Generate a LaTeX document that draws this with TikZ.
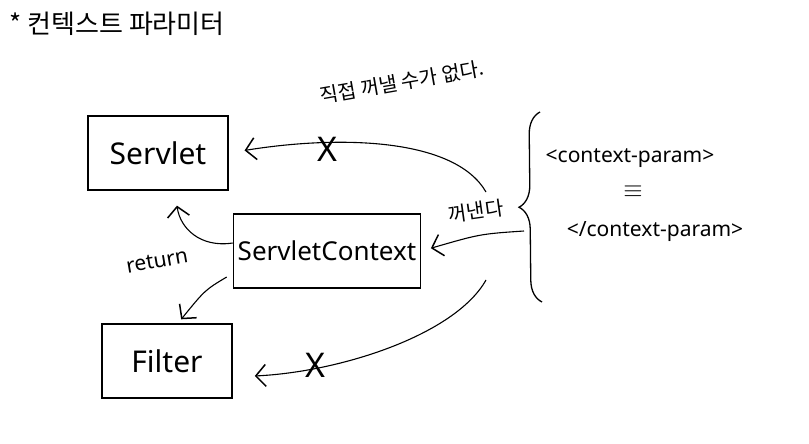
\documentclass[tikz,border=0pt]{standalone}
\usepackage{fontspec}
\setmainfont{Noto Sans}
\newfontfamily\kor{Noto Sans CJK KR}
\usetikzlibrary{arrows.meta,positioning,decorations.pathreplacing}

\begin{document}
\begin{tikzpicture}[
    x=1pt, y=-1pt,
    box/.style={draw=black, line width=1.6pt, minimum height=74pt, inner sep=4pt, font=\fontsize{30}{34}\selectfont},
    arr/.style={-{Straight Barb[length=10pt, width=22pt, line width=1.5pt]}, line width=1.1pt},
    hand/.style={font=\kor\fontsize{20}{24}\selectfont},
    param/.style={font=\fontsize{21}{24}\selectfont},
    cross/.style={font=\fontsize{34}{38}\selectfont, inner sep=0pt}
]
\useasboundingbox (0,0) rectangle (809,444);

\node[anchor=west, font=\kor\fontsize{26}{30}\selectfont] (title) at (6,24) {* 컨텍스트 파라미터};

\node[box, minimum width=140pt] (servlet) at (158,153) {Servlet};
\node[box, minimum width=187pt, font=\fontsize{26}{30}\selectfont] (context) at (327,251) {ServletContext};
\node[box, minimum width=130pt] (filter) at (167,361) {Filter};

\node[hand, rotate=10] (note) at (402,82) {직접 꺼낼 수가 없다.};

% brace with the web.xml entries
\coordinate (braceBot) at (542,302);
\coordinate (braceTop) at (540,112);
\draw[decorate, decoration={brace, amplitude=22pt}, line width=1.3pt] (braceBot) -- (braceTop);
\node[param] (open) at (630,158) {<context-param>};
\node[font=\fontsize{30}{34}\selectfont] (dots) at (633,192) {$\equiv$};
\node[param] (close) at (655,232) {</context-param>};

\coordinate (topsrc) at (486,192);
\coordinate (midsrc) at (524,231);
\coordinate (botsrc) at (486,280);

\draw[arr, shorten >=16pt] (topsrc) .. controls (455,138) and (340,135) .. (servlet.east);
\node[cross] (xtop) at (327,149) {X};

\draw[arr, shorten >=10pt] (midsrc) .. controls (480,234) .. (context.east);
\node[hand, rotate=8] (take) at (476,211) {꺼낸다};

\draw[arr, shorten >=22pt] (botsrc) .. controls (455,335) and (340,372) .. ([yshift=-16pt]filter.east);
\node[cross] (xbot) at (315,365) {X};

\draw[arr, shorten >=15pt] ([yshift=8pt]context.west) .. controls (200,248) and (180,228) .. ([xshift=17pt]servlet.south);
\node[param, rotate=10] (ret) at (157,261) {return};

\draw[arr, shorten >=5pt] ([xshift=-6pt,yshift=-26pt]context.west) .. controls (205,290) .. ([xshift=11pt]filter.north);

\end{tikzpicture}
\end{document}
